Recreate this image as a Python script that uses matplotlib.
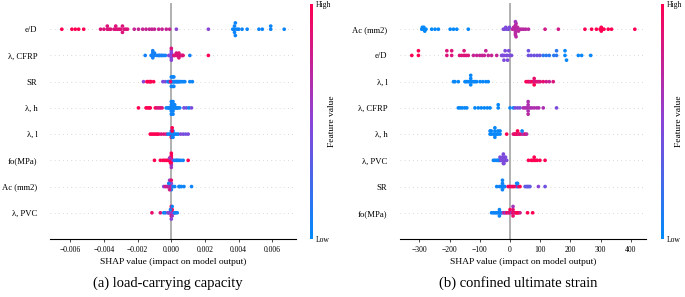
import matplotlib
matplotlib.use("Agg")
import matplotlib.pyplot as plt
import numpy as np
from matplotlib.colors import LinearSegmentedColormap
from matplotlib.cm import ScalarMappable

plt.rcParams["font.family"] = ["Liberation Serif", "DejaVu Serif"]

# ---------- (a) load-carrying capacity: SHAP values (x1e-3) and normalised feature values ----------
a_features = ["e/D", "λ, CFRP", "SR", "λ, h", "λ, l", "fo(MPa)", "Ac (mm2)", "λ, PVC"]

a_eD_shap = [-6.5, -5.9, -5.7, -5.5, -5.2,
             -4.2, -4.0, -3.8, -3.8, -3.7, -3.6, -3.4, -3.3, -3.3, -3.2, -3.1, -3.0, -2.9, -2.9, -2.8, -2.7, -2.6,
             -2.2, -1.95, -1.7, -1.5, -1.3, -1.15, -1.0, -0.75, -0.55, -0.3, -0.1,
             0.3, 2.2,
             3.65, 3.75, 3.75, 3.75, 3.8, 3.8, 3.9, 4.0, 4.2, 4.5, 5.2, 5.4, 5.9, 5.9, 6.7]
a_eD_val = [1.0] * 5 + [0.85] * 17 + [0.75] * 11 + [0.5] * 2 + [0.05] * 15

a_cfrp_shap = [-1.55, -1.2, -1.1, -1.1, -1.1, -1.0, -1.0, -0.85, -0.75, -0.7, -0.6, -0.55, -0.45, -0.35,
               -0.15, -0.05, 0.0, 0.0, 0.0, 0.05, 0.0,
               0.15, 0.2, 0.3, 0.3, 0.35, 0.4, 0.45, 0.45, 0.5, 0.6, 0.65, 0.7,
               1.1, 2.2, 0.0, 0.0, -1.1, 0.45]
a_cfrp_val = [0.08] * 14 + [0.5] * 7 + [0.85] * 12 + [0.08, 1.0, 0.5, 0.85, 0.08, 0.85]

a_sr_shap = [-1.65, -1.45, -1.4, -1.3, -1.25, -1.2, -1.05, -0.5, -0.35,
             -0.2, -0.15, -0.1, 0.0, 0.0, 0.0, 0.05, 0.1, 0.15, 0.15, 0.2, 0.25, 0.3, 0.35, 0.4, 0.45, 0.5, 0.6, 0.7, 0.8,
             1.1, 1.25, -0.05, 0.1, 0.1, 0.15]
a_sr_val = [0.5] + [1.0] * 6 + [0.45, 0.45] + [0.05] * 20 + [0.05, 0.05, 0.9, 0.05, 0.05, 0.05]

a_h_shap = [-1.95, -1.5, -1.4, -1.3, -1.25, -0.95, -0.85, -0.75, -0.65, -0.55,
            -0.3, -0.2, -0.15, -0.1, -0.05, 0.0, 0.0, 0.0, 0.05, 0.05, 0.1, 0.1, 0.1, 0.15, 0.2, 0.2, 0.25, 0.3, 0.35, 0.4, 0.5,
            0.75, 0.9, 1.05, 1.2, 0.0, 0.0, 0.1, 0.1]
a_h_val = [1.0] * 6 + [0.85] * 4 + [0.05] * 21 + [0.45, 0.4, 0.05, 0.45] + [0.05] * 4

a_l_shap = [-1.25, -1.15, -1.05, -0.95, -0.85, -0.75, -0.6, -0.45, -0.3,
            -0.2, -0.1, -0.05, 0.0, 0.0, 0.05, 0.1, 0.1, 0.15, 0.2, 0.3, 0.4,
            0.0, 0.05, 0.55, 0.7, 0.85, 1.0, 0.05, 0.05, 0.1]
a_l_val = [1.0] * 6 + [0.85] * 3 + [0.05] * 12 + [1.0, 1.0, 0.45, 0.45, 0.4, 0.45, 0.05, 1.0, 0.05]

a_fo_shap = [-1.0, -0.65, -0.5, -0.4, -0.3, -0.2, -0.15, -0.1, -0.05, -0.05, 0.0, 0.0, 0.0, 0.0, 0.05,
             0.1, 0.2, 0.3, 0.35, 0.45, 0.55, 0.7, 1.0, -0.1, 0.0, 0.0, -0.05, 0.0]
a_fo_val = [1.0] * 15 + [0.5] + [0.05] * 6 + [1.0, 0.6, 0.6, 1.0, 1.0, 0.6]

a_ac_shap = [-0.45, -0.35, -0.25, -0.2, -0.15, -0.1, -0.1, -0.05, 0.0, 0.0, 0.05,
             -0.15, 0.0, 0.1, 0.2, 0.45, 0.5, 0.6, 0.75, 1.2, -0.1, -0.1, 0.0]
a_ac_val = [0.5, 0.8, 0.8, 0.7, 0.8, 0.6, 0.9, 0.7, 0.8, 0.5, 0.7,
            0.05, 0.1, 0.1, 0.05, 0.05, 0.05, 0.05, 0.05, 0.05, 0.8, 0.6, 0.9]

a_pvc_shap = [-1.15, -0.65, -0.45, -0.35, -0.2, -0.15, -0.1, -0.05, 0.0, 0.0, 0.05, 0.1, 0.15,
              0.0, 0.05, 0.2, 0.25, 0.35, -0.05, 0.0, 0.05, 0.05, 0.0]
a_pvc_val = [0.9, 0.85, 0.05, 0.1, 0.5, 0.45, 0.55, 0.5, 0.6, 0.45, 0.5, 0.55, 0.5,
             1.0, 1.0, 0.05, 0.1, 0.05, 0.1, 1.0, 0.6, 0.05, 0.5]

# ---------- (b) confined ultimate strain ----------
b_features = ["Ac (mm2)", "e/D", "λ, l", "λ, CFRP", "λ, h", "λ, PVC", "SR", "fo(MPa)"]

b_ac_shap = [-292, -290, -288, -285, -282, -278, -259, -248, -237, -198, -187, -176, -138,
             -22, -18, -14, -10, -5, -2,
             8, 12, 15, 15, 18, 18, 18, 20, 22, 25, 28, 33, 39, 45, 52, 61,
             116, 160,
             248, 270, 286, 298, 302, 302, 306, 311, 325, 336, 413, 18, 18, 20]
b_ac_val = [0.02] * 13 + [0.45] * 6 + [0.7] * 16 + [0.8] * 2 + [1.0] * 11 + [0.7, 0.6, 0.7]

b_eD_shap = [-325, -303, -303, -209, -209, -193, -193, -167, -160, -152, -152, -145, -138,
             -121, -110, -100, -92, -85, -80, -72, -61, -44,
             -28, -24, -20, -16, -12, -8, -4, 0, 5, -20, -8,
             61, 61, 70, 80, 90, 99,
             110, 120, 130, 145, 154, 154,
             182, 182, 187, 226, 237, 267]
b_eD_val = [1.0] * 3 + [0.85] * 10 + [0.75] * 9 + [0.45] * 11 + [0.4] * 6 + [0.15] * 6 + [0.03] * 6

b_l_shap = [-187, -182, -171, -149, -145, -140, -135, -130, -130, -125, -120, -115, -110, -99, -90, -80, -72,
            53, 58, 62, 66, 70, 75, 80, 80, 85, 90, 95, 100, 110, 120, 130, 143, -130, -130, 80]
b_l_val = [0.03] * 17 + [1.0, 0.9, 1.0, 0.85, 0.9, 1.0, 0.8, 0.9, 0.85, 0.9, 0.8, 0.85, 0.9, 0.8, 0.75, 0.85,
                         0.03, 0.03, 1.0]

b_cfrp_shap = [-171, -165, -158, -150, -143, -116, -105, -95, -85, -75, -66, -39, -39, 0, 11,
               17, 25, 33, 44, 50, 55, 60, 60, 60, 66, 72, 80, 88, 95, 110, 154, 60, 60]
b_cfrp_val = [0.03] * 15 + [0.45] * 3 + [0.65] * 12 + [0.45, 0.65, 0.7]

b_h_shap = [-66, -66, -62, -62, -55, -50, -50, -45, -40, -40, -33, -33,
            -11, 11, 15, 18, 22, 25, 30, 33, 40, 45, 50, 55, 40, -50, -50, 25]
b_h_val = [0.03] * 12 + [1.0, 0.9, 0.8, 1.0, 0.85, 1.0, 0.7, 0.9, 0.8, 0.6, 0.9, 0.7, 0.05, 0.03, 0.03, 1.0]

b_pvc_shap = [-55, -50, -45, -40, -38, -35, -33,
              -33, -30, -28, -25, -22, -20, -18, -15, -13, -11, -25, -20, -15, -22,
              61, 70, 75, 80, 80, 85, 90, 99, 116, -22, -22, -20]
b_pvc_val = [0.05] * 7 + [0.45] * 14 + [1.0] * 9 + [0.45] * 3

b_sr_shap = [-44, -35, -30, -28, -25, -25, -22, -20, -17,
             -6, 0, 5, 22, 22, 25, 10, 15, 28, 33,
             50, 55, 58, 62, 66, 94, 116, -25, -25, 25]
b_sr_val = [0.05] * 9 + [1.0, 1.0, 0.9, 0.05, 0.05, 0.05, 1.0, 0.9, 0.8, 1.0] + [0.35] * 5 + [0.5, 0.4] + [0.05] * 3

b_fo_shap = [-61, -55, -50, -45, -40, -35, -30, -28, -35,
             -22, -18, -15, -10, -5, 0, 5, 10, 15, 20, 25, 28, 33, 0, 10, 22,
             58, 75, 10, 10, -35]
b_fo_val = [0.05] * 9 + [0.6, 0.9, 0.5, 1.0, 0.8, 0.9, 0.6, 1.0, 0.8, 1.0, 0.9, 1.0, 0.8, 1.0, 0.9, 1.0, 1.0, 1.0,
                         0.9, 0.6, 0.05]

a_rows = [(a_eD_shap, a_eD_val), (a_cfrp_shap, a_cfrp_val), (a_sr_shap, a_sr_val), (a_h_shap, a_h_val),
          (a_l_shap, a_l_val), (a_fo_shap, a_fo_val), (a_ac_shap, a_ac_val), (a_pvc_shap, a_pvc_val)]
b_rows = [(b_ac_shap, b_ac_val), (b_eD_shap, b_eD_val), (b_l_shap, b_l_val), (b_cfrp_shap, b_cfrp_val),
          (b_h_shap, b_h_val), (b_pvc_shap, b_pvc_val), (b_sr_shap, b_sr_val), (b_fo_shap, b_fo_val)]

cmap = LinearSegmentedColormap.from_list("shap", ["#008bfb", "#8a44d8", "#ff0052"])


def swarm_offsets(x, row_height=0.4, nbins=100):
    # shap-style beeswarm layout
    x = np.asarray(x, float)
    quant = np.round(nbins * (x - x.min()) / (x.max() - x.min() + 1e-8))
    inds = np.argsort(quant, kind="stable")
    ys = np.zeros(len(x))
    layer, last = 0, None
    for i in inds:
        if quant[i] != last:
            layer = 0
        ys[i] = np.ceil(layer / 2) * ((layer % 2) * 2 - 1)
        layer += 1
        last = quant[i]
    ys *= 0.9 * (row_height / np.max(ys + 1))
    return ys


def beeswarm(ax, rows, names, scale, xlim, ticks, ticklabels):
    n = len(rows)
    for i, (s, v) in enumerate(rows):
        y = n - 1 - i
        ax.axhline(y, color="#cccccc", lw=0.6, dashes=(1, 4), zorder=0)
        xs = np.asarray(s, float) * scale
        ax.scatter(xs, y + swarm_offsets(xs), c=v, cmap=cmap, vmin=0, vmax=1,
                   s=7, linewidths=0, zorder=3)
    ax.axvline(0, color="#aaaaaa", lw=1.3, zorder=1)
    ax.set_ylim(-1, n)
    ax.set_yticks(range(n))
    ax.set_yticklabels(names[::-1], fontsize=6.2)
    ax.tick_params(axis="y", length=0, pad=9)
    ax.set_xlim(*xlim)
    ax.set_xticks(ticks)
    ax.set_xticklabels(ticklabels, fontsize=5.5)
    ax.tick_params(axis="x", length=2, width=0.5, pad=3)
    for sp in ["top", "left", "right"]:
        ax.spines[sp].set_visible(False)
    ax.spines["bottom"].set_linewidth(0.8)
    ax.set_xlabel("SHAP value (impact on model output)", fontsize=6.8, labelpad=3)


def colorbar(fig, rect, pad):
    cax = fig.add_axes(rect)
    cb = fig.colorbar(ScalarMappable(cmap=cmap), cax=cax, ticks=[0, 1])
    cb.set_ticklabels(["Low", "High"], fontsize=5.5)
    cb.outline.set_visible(False)
    cax.tick_params(length=0, pad=2)
    cb.set_label("Feature value", fontsize=6.8, labelpad=pad)


fig = plt.figure(figsize=(6.85, 2.97), dpi=100)

ax1 = fig.add_axes([50 / 685, 58 / 297, 246 / 685, 236 / 297])
beeswarm(ax1, a_rows, a_features, 1e-3, (-0.0072, 0.0074),
         [-0.006, -0.004, -0.002, 0, 0.002, 0.004, 0.006],
         ["−0.006", "−0.004", "−0.002", "0.000", "0.002", "0.004", "0.006"])
colorbar(fig, [310 / 685, 58 / 297, 2.5 / 685, 235 / 297], -2)

ax2 = fig.add_axes([400 / 685, 58 / 297, 246 / 685, 236 / 297])
beeswarm(ax2, b_rows, b_features, 1.0, (-364, 450),
         [-300, -200, -100, 0, 100, 200, 300, 400],
         ["−300", "−200", "−100", "0", "100", "200", "300", "400"])
colorbar(fig, [661 / 685, 58 / 297, 2.5 / 685, 235 / 297], -5)

fig.text(168 / 685, 1 - 283 / 297, "(a) load-carrying capacity", fontsize=10.5, ha="center", va="center")
fig.text(518 / 685, 1 - 283 / 297, "(b) confined ultimate strain", fontsize=10.5, ha="center", va="center")

fig.savefig("out.png", dpi=100)
